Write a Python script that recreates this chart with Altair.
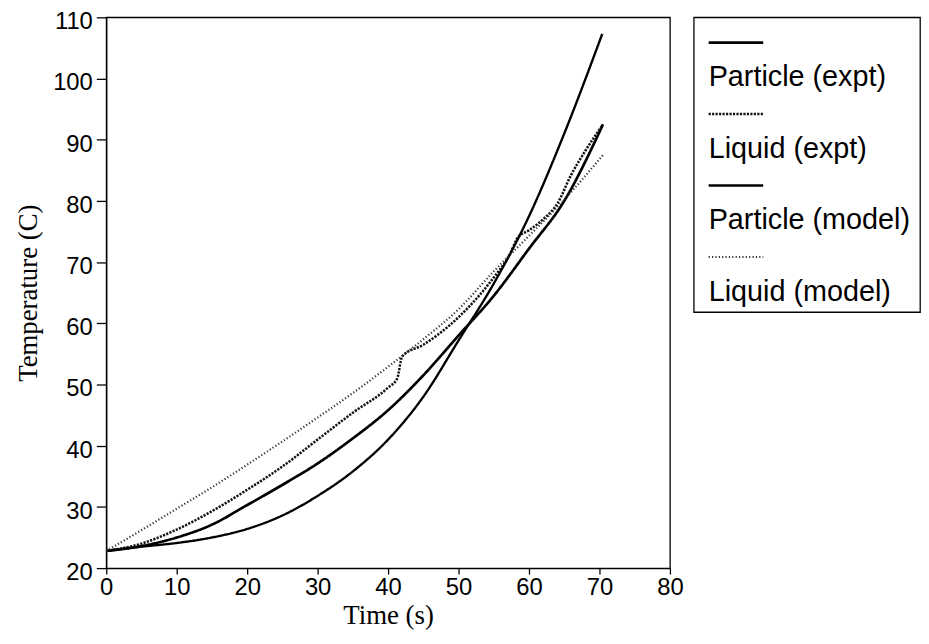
import altair as alt
import pandas as pd

# ---- data ----
series_names = ["Particle (expt)", "Liquid (expt)", "Particle (model)", "Liquid (model)"]

particle_expt_t = [0, 5, 10, 15, 20, 25, 30, 35, 40, 45, 50, 55, 60, 65, 70.5]
particle_expt_v = [22.8, 23.6, 25.0, 27.1, 30.3, 33.6, 37.1, 41.2, 45.8, 51.5, 58.0, 64.5, 72.2, 80.0, 92.5]

liquid_expt_t = [0, 5, 10, 15, 20, 25, 30, 35, 40, 41.3, 42, 45, 50, 55, 57.3, 58.4, 60, 62, 64, 66, 68, 70.5]
liquid_expt_v = [22.8, 24.0, 26.3, 29.3, 32.8, 36.6, 41.0, 45.4, 49.5, 51.0, 54.6, 56.5, 61.0, 67.5, 71.3, 74.0, 75.2, 77.0, 79.5, 84.3, 88.2, 92.5]

particle_model_t = [0, 5, 10, 15, 20, 25, 30, 35, 40, 45, 50, 55, 60, 65, 70.4]
particle_model_v = [22.8, 23.5, 24.1, 25.0, 26.4, 28.6, 31.8, 35.8, 41.0, 48.0, 57.2, 66.5, 77.5, 91.0, 107.3]

liquid_model_t = [0, 5, 10, 15, 20, 25, 30, 35, 40, 45, 50, 55, 60, 65, 70.5]
liquid_model_v = [22.8, 26.2, 29.7, 33.2, 36.9, 40.7, 44.6, 48.6, 52.9, 57.4, 62.3, 68.5, 74.3, 80.2, 87.5]

x_ticks = [0, 10, 20, 30, 40, 50, 60, 70, 80]
y_ticks = [20, 30, 40, 50, 60, 70, 80, 90, 100, 110]

# ---- build table ----
rows = []
for name, ts, vs in zip(series_names,
                        [particle_expt_t, liquid_expt_t, particle_model_t, liquid_model_t],
                        [particle_expt_v, liquid_expt_v, particle_model_v, liquid_model_v]):
    for i, (t, v) in enumerate(zip(ts, vs)):
        rows.append({"series": name, "t": t, "v": v, "order": i})
df = pd.DataFrame(rows)

dash_range = [[1, 0], [2.2, 1.3], [1, 0], [1.2, 2.2]]
width_range = [2.7, 2.2, 1.4, 1.3]
color_range = ["#000000", "#111111", "#000000", "#333333"]

sans = "Liberation Sans"
serif = "Liberation Serif"

dash_enc = alt.StrokeDash("series:N", scale=alt.Scale(domain=series_names, range=dash_range), legend=None)
width_enc = alt.StrokeWidth("series:N", scale=alt.Scale(domain=series_names, range=width_range), legend=None)
color_enc = alt.Color("series:N", scale=alt.Scale(domain=series_names, range=color_range), legend=None)

main = alt.Chart(df).mark_line(interpolate="monotone").encode(
    x=alt.X("t:Q", title="Time (s)",
            scale=alt.Scale(domain=[0, 80], nice=False),
            axis=alt.Axis(values=x_ticks, grid=False, tickSize=6, labelPadding=2, labelFlush=False,
                          labelFont=sans, labelFontSize=24, labelColor="black",
                          titleFont=serif, titleFontSize=27, titleFontWeight="normal",
                          titleColor="black", titlePadding=3,
                          domainColor="black", tickColor="black", domainWidth=1.3, tickWidth=1.3)),
    y=alt.Y("v:Q", title="Temperature (C)",
            scale=alt.Scale(domain=[20, 110], nice=False),
            axis=alt.Axis(values=y_ticks, grid=False, tickSize=10, labelPadding=4, labelOffset=4.5,
                          labelFlush=False,
                          labelFont=sans, labelFontSize=24, labelColor="black",
                          titleFont=serif, titleFontSize=27, titleFontWeight="normal",
                          titleColor="black", titlePadding=10,
                          domainColor="black", tickColor="black", domainWidth=1.3, tickWidth=1.3)),
    detail="series:N",
    order="order:Q",
    strokeDash=dash_enc,
    strokeWidth=width_enc,
    color=color_enc,
).properties(width=568, height=555)

leg_df = pd.DataFrame({"series": series_names})
leg_y = alt.Y("series:N", sort=series_names, axis=None,
              scale=alt.Scale(type="point", padding=0.5625))

leg_lines = alt.Chart(leg_df).mark_rule(yOffset=-15).encode(
    y=leg_y,
    x=alt.value(15), x2=alt.value(70),
    strokeDash=dash_enc,
    strokeWidth=width_enc,
    color=color_enc,
)
leg_text = alt.Chart(leg_df).mark_text(align="left", baseline="alphabetic", dy=29,
                                       font=sans, fontSize=29, color="black").encode(
    y=leg_y, x=alt.value(15), text="series:N")

legend = alt.layer(leg_lines, leg_text).properties(width=228, height=297)

chart = alt.hconcat(main, legend, spacing=9).configure_view(
    stroke="black", strokeWidth=1.3
).properties(padding={"left": 6, "top": -2, "right": 0, "bottom": 0}, background="white")

chart.save("out.html", embed_options={"renderer": "svg", "actions": False})
